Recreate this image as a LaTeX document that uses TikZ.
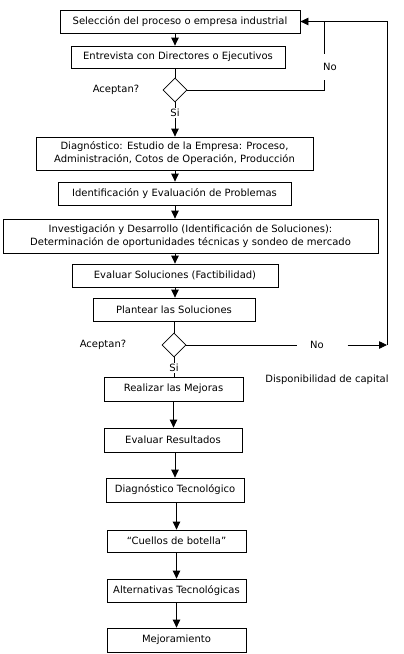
\documentclass[tikz,border=0pt]{standalone}
\usepackage{fontspec}
\setmainfont{DejaVu Sans}
\usetikzlibrary{arrows.meta,shapes.geometric}
\begin{document}
\begin{tikzpicture}[x=1pt,y=-1pt,
  box/.style={draw, line width=0.8pt, inner sep=0pt, font=\fontsize{10}{13}\selectfont, align=center},
  arr/.style={line width=0.8pt, -{Triangle[length=8pt,width=7.5pt]}},
  ln/.style={line width=0.8pt},
  lbl/.style={font=\fontsize{10}{12}\selectfont, inner sep=1pt},
  dia/.style={draw, diamond, line width=0.8pt, minimum width=24pt, minimum height=24pt, inner sep=0pt}]
\useasboundingbox (0,0) rectangle (404,654);
% boxes
\node[box, minimum width=240pt, minimum height=23pt] (b1) at (180,21.5) {Selección del proceso o empresa industrial};
\node[box, minimum width=214pt, minimum height=22pt] (b2) at (178,57) {Entrevista con Directores o Ejecutivos};
\node[dia] (d1) at (175,90) {};
\node[box, minimum width=277pt, minimum height=33pt] (b3) at (174.5,153.5) {Diagnóstico: Estudio de la Empresa: Proceso,\\Administración, Cotos de Operación, Producción};
\node[box, minimum width=233pt, minimum height=23pt] (b4) at (174.5,193.5) {Identificación y Evaluación de Problemas};
\node[box, minimum width=375pt, minimum height=34pt] (b5) at (190.5,236) {Investigación y Desarrollo (Identificación de Soluciones):\\Determinación de oportunidades técnicas y sondeo de mercado};
\node[box, minimum width=206pt, minimum height=23pt] (b6) at (175,275.5) {Evaluar Soluciones (Factibilidad)};
\node[box, minimum width=162pt, minimum height=23pt] (b7) at (174,309.5) {Plantear las Soluciones};
\node[dia] (d2) at (174,345) {};
\node[box, minimum width=139pt, minimum height=24pt] (b8) at (173.5,389) {Realizar las Mejoras};
\node[box, minimum width=138pt, minimum height=24pt] (b9) at (173,440) {Evaluar Resultados};
\node[box, minimum width=138pt, minimum height=24pt] (b10) at (175,490) {Diagnóstico Tecnológico};
\node[box, minimum width=139pt, minimum height=22pt] (b11) at (176.5,541) {“Cuellos de botella”};
\node[box, minimum width=139pt, minimum height=23pt] (b12) at (176.5,590.5) {Alternativas Tecnológicas};
\node[box, minimum width=139pt, minimum height=24pt] (b13) at (176.5,640) {Mejoramiento};
% labels
\node[lbl] (a1) at (116,90) {Aceptan?};
\node[lbl] (a2) at (103,345) {Aceptan?};
\node[lbl, inner sep=0pt] (no2) at (317,345) {No};
\node[lbl] (cap) at (327,380) {Disponibilidad de capital};
% coordinates
\coordinate (t1) at (324,90);
\coordinate (r1) at (387,345);
% connectors
\draw[arr] (b1.south -| d1) -- (b2.north -| d1);
\draw[ln] (b2.south -| d1) -- (d1.north);
\draw[arr] (d1.south) -- node[lbl, fill=white, pos=0.3] (si1) {Si} (b3.north -| d1);
\draw[arr] (b3.south -| d1) -- (b4.north -| d1);
\draw[arr] (b4.south -| d1) -- (b5.north -| d1);
\draw[arr] (b5.south -| d1) -- (b6.north -| d1);
\draw[arr] (b6.south -| d1) -- (b7.north -| d1);
\draw[ln] (b7.south -| d2) -- (d2.north);
\draw[ln] (d2.south) -- node[lbl, fill=white, pos=0.55] (si2) {Si} (b8.north -| d2);
\draw[arr] (b8.south) -- (b9.north -| b8);
\draw[arr] (b9.south -| b10) -- (b10.north);
\draw[arr] (b10.south -| b11) -- (b11.north);
\draw[arr] (b11.south) -- (b12.north);
\draw[arr] (b12.south) -- (b13.north);
% No loop (top)
\draw[ln] (d1.east) -- (t1) -- (t1 |- b1.east);
\node[lbl, fill=white, minimum height=26pt, inner xsep=2pt] (no1) at (330,67) {No};
% No loop (right)
\draw[ln] (d2.east) -- ([xshift=-13pt]no2.west);
\draw[arr] ([xshift=23.5pt]no2.east) -- (r1);
\draw[arr] (r1) |- (b1.east);
\end{tikzpicture}
\end{document}
